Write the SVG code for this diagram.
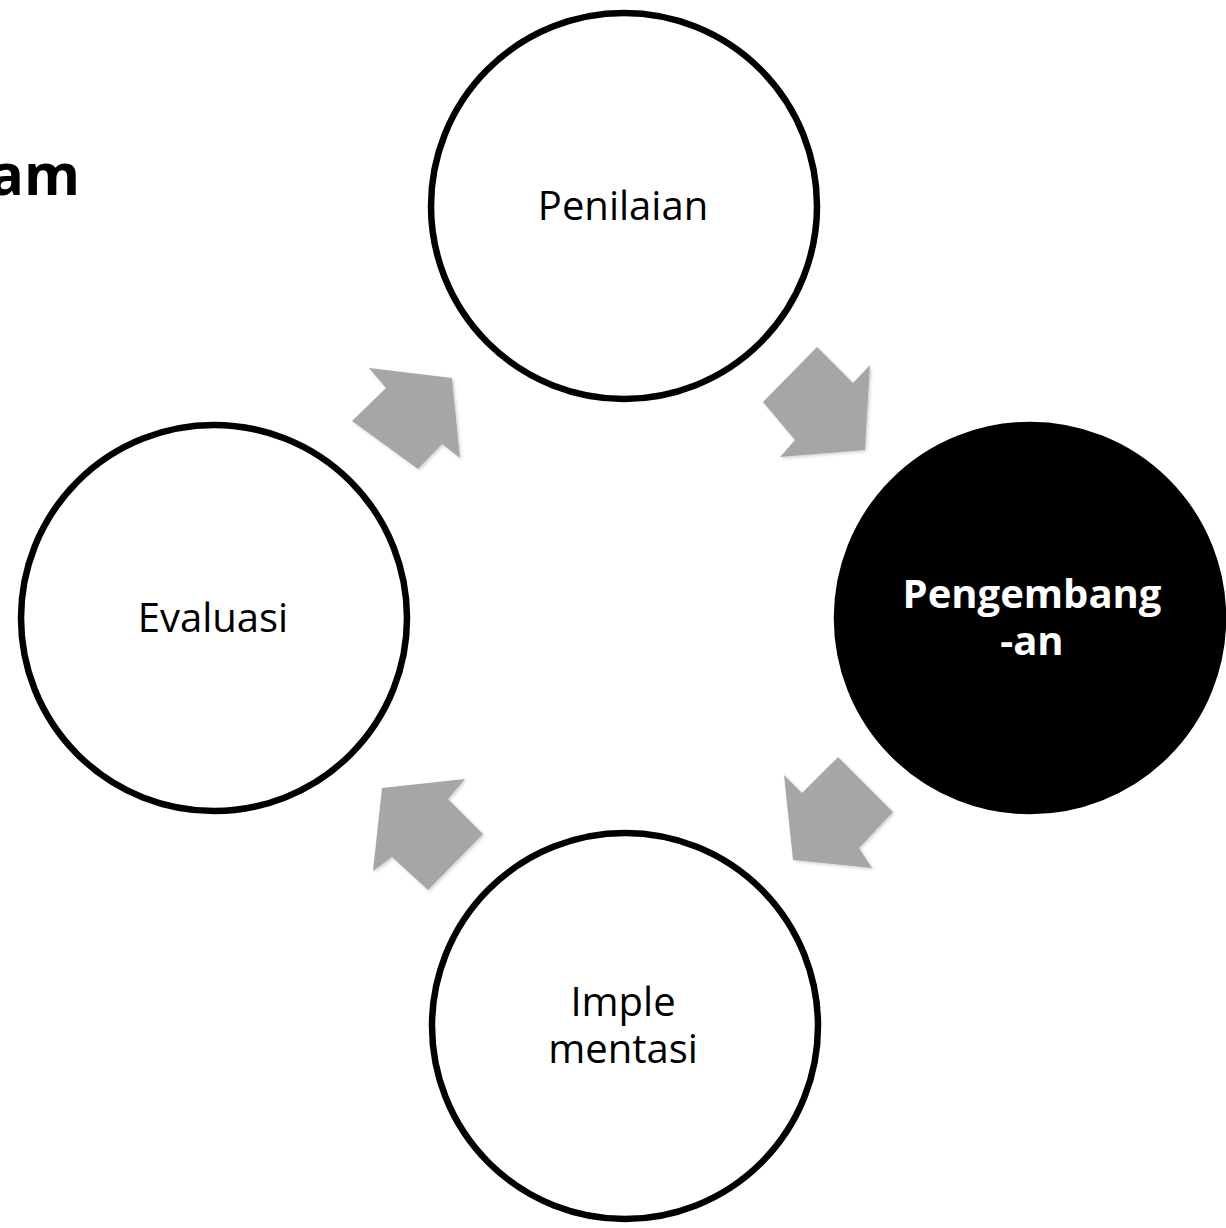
<svg xmlns="http://www.w3.org/2000/svg" width="1226" height="1228" viewBox="0 0 1226 1228">
<style>
.node{fill:#ffffff;stroke:#000000;stroke-width:6.5}
.dark{fill:#000000;stroke:#000000;stroke-width:6.5}
.lbl{font-family:"Open Sans","Liberation Sans",sans-serif;font-size:40px;fill:#000000;text-anchor:middle}
.lblw{font-family:"Open Sans","Liberation Sans",sans-serif;font-size:40px;font-weight:bold;fill:#ffffff;text-anchor:middle}
.arr{fill:#a6a6a6;filter:url(#sh)}
</style>
<defs>
<filter id="sh" x="-20%" y="-20%" width="140%" height="140%">
<feDropShadow dx="1.5" dy="1.5" stdDeviation="1.5" flood-color="#000" flood-opacity="0.18"/>
</filter>
</defs>
<rect width="1226" height="1228" fill="#ffffff"/>
<text x="80" y="195" font-family="'Open Sans','Liberation Sans',sans-serif" font-size="57" font-weight="bold" text-anchor="end" fill="#000">am</text>
<g id="connectors">
<polygon class="arr" points="369,368 452,378 460,458 442,444 418,469 352,421 386,388"/>
<polygon class="arr" points="817,347 853,383 870,365 865,450 780,457 795,440 763,402"/>
<polygon class="arr" points="838,757 893,812 859,848 872,868 793,860 784,775 802,793"/>
<polygon class="arr" points="465,779 448,799 483,834 428,890 392,857 373,871 382,788"/>
</g>
<g id="penilaian">
<circle class="node" cx="624" cy="206" r="193"/>
<text class="lbl" x="623" y="220">Penilaian</text>
</g>
<g id="pengembangan">
<circle class="dark" cx="1030" cy="618" r="193"/>
<text class="lblw" x="1032" y="608"><tspan x="1032" y="608">Pengembang</tspan><tspan x="1032" y="655">-an</tspan></text>
</g>
<g id="implementasi">
<circle class="node" cx="625" cy="1026" r="193"/>
<text class="lbl" x="623" y="1016"><tspan x="623" y="1016">Imple</tspan><tspan x="623" y="1063">mentasi</tspan></text>
</g>
<g id="evaluasi">
<circle class="node" cx="214" cy="618" r="193"/>
<text class="lbl" x="213" y="632">Evaluasi</text>
</g>
</svg>
